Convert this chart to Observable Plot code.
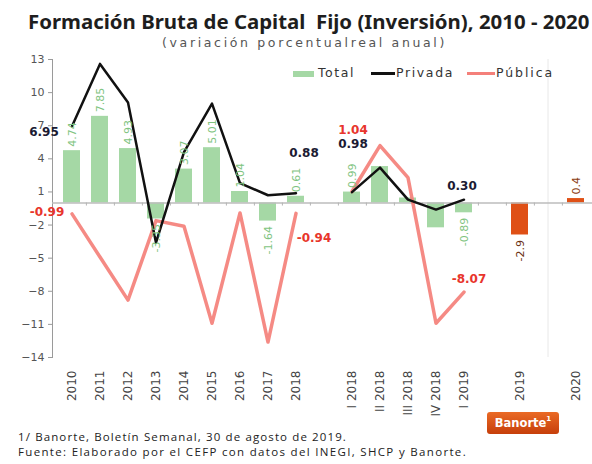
<!DOCTYPE html>
<html><head><meta charset="utf-8">
<script src="https://cdn.jsdelivr.net/npm/d3@7"></script>
<script src="https://cdn.jsdelivr.net/npm/@observablehq/plot@0.6"></script>
<style>
body{margin:0;background:#fff;}
#wrap{position:relative;width:592px;height:464px;overflow:hidden;background:#fff;}
#wrap svg{position:absolute;left:0;top:0;}
.abs{position:absolute;white-space:pre;}
#title{left:28px;top:11px;font-family:"Noto Sans",sans-serif;font-weight:bold;font-size:18px;line-height:20px;color:#1e1e1e;}
#subtitle{left:162px;top:36px;font-family:"DejaVu Sans",sans-serif;font-size:12.5px;line-height:14px;color:#555;}
.leg{font-family:"DejaVu Sans",sans-serif;font-size:12.5px;line-height:14px;color:#333;top:66px;}
.note{font-family:"Open Sans",sans-serif;font-size:11.5px;line-height:13px;color:#222;left:18px;}
#banorte{left:487px;top:412px;width:72px;height:22px;border-radius:3px;background:linear-gradient(#ea6a25,#c63f0b);color:#fff;font-family:"DejaVu Sans",sans-serif;font-weight:bold;font-size:11.5px;line-height:22px;text-align:center;}
#banorte sup{font-size:7px;vertical-align:6px;line-height:0;}
</style></head>
<body><div id="wrap">
<div id="title" class="abs">Formación Bruta de Capital  Fijo (Inversión), 2010 - 2020</div>
<div id="subtitle" class="abs">(variación porcentualreal anual)</div>
<div class="abs" style="left:293px;top:71px;width:21px;height:6px;background:#a5d8a5;"></div>
<div id="legTotal" class="abs leg" style="left:318px;">Total</div>
<div class="abs" style="left:371px;top:72px;width:24px;height:2.5px;background:#111;"></div>
<div id="legPriv" class="abs leg" style="left:396px;">Privada</div>
<div class="abs" style="left:467px;top:71.5px;width:28px;height:3.5px;background:#f4807a;"></div>
<div id="legPub" class="abs leg" style="left:496px;">Pública</div>
<div id="note1" class="abs note" style="top:430px;">1/ Banorte, Boletín Semanal, 30 de agosto de 2019.</div>
<div id="note2" class="abs note" style="top:445px;">Fuente: Elaborado por el CEFP con datos del INEGI, SHCP y Banorte.</div>
<div id="banorte" class="abs">Banorte<sup>1</sup></div>
</div>
<script>
// ---- data ----
const annualYears = ["2010","2011","2012","2013","2014","2015","2016","2017","2018"];
const quarters = ["I 2018","II 2018","III 2018","IV 2018","I 2019"];
const banorteYears = ["2019","2020"];
const categories = [...annualYears, "_a", ...quarters, "_b", "2019", "_c", "2020"];
const tickLabels = [...annualYears, ...quarters, ...banorteYears];
const yTicks = [13, 10, 7, 4, 1, -2, -5, -8, -11, -14];

const totalAnual = [4.74, 7.85, 4.93, -1.45, 3.07, 5.01, 1.04, -1.64, 0.61];
const totalAnualLabels = ["4.74", "7.85", "4.93", "-3.35", "3.07", "5.01", "1.04", "-1.64", "0.61"];
const totalTrim = [0.99, 3.3, 0.45, -2.25, -0.89];
const totalTrimLabels = ["0.99", "", "", "", "-0.89"];
const banorteTotal = [-2.9, 0.4];
const banorteLabels = ["-2.9", "0.4"];

const privadaAnual = [6.95, 12.6, 9.1, -3.6, 4.6, 9.0, 1.8, 0.7, 0.88];
const privadaTrim = [0.98, 3.2, 0.3, -0.6, 0.30];
const publicaAnual = [-0.99, -4.9, -8.8, -1.6, -2.1, -10.9, -0.9, -12.6, -0.94];
const publicaTrim = [1.04, 5.2, 2.3, -10.9, -8.07];

// ---- tables ----
const totalRows = [
  ...annualYears.map((c, i) => ({cat: c, value: totalAnual[i], label: totalAnualLabels[i]})),
  ...quarters.map((c, i) => ({cat: c, value: totalTrim[i], label: totalTrimLabels[i]}))
];
const banorteRows = banorteYears.map((c, i) => ({cat: c, value: banorteTotal[i], label: banorteLabels[i]}));
const lineRows = (a, q) => [
  ...annualYears.map((c, i) => ({cat: c, value: a[i], seg: "a"})),
  ...quarters.map((c, i) => ({cat: c, value: q[i], seg: "q"}))
];
const privRows = lineRows(privadaAnual, privadaTrim);
const pubRows = lineRows(publicaAnual, publicaTrim);
const pt = (cat, value) => [{cat, value}];
const fmt = d => d.value.toFixed(2);

const green = "#a5d8a5", greenText = "#7fc47f", navy = "#1b1b33", red = "#e8352c";

const chart = Plot.plot({
  width: 592, height: 464,
  marginTop: 59, marginBottom: 107, marginLeft: 52, marginRight: 0,
  style: {fontFamily: "DejaVu Sans, sans-serif", background: "transparent", color: "#555", overflow: "visible"},
  x: {type: "band", domain: categories, range: [49.6, 596.8], paddingInner: 0.4, paddingOuter: 0.2, axis: null},
  y: {domain: [-14, 13], axis: null},
  marks: [
    Plot.ruleX(["_c"], {stroke: "#e8e8e8", y1: 13, y2: -14}),
    Plot.frame({anchor: "left", stroke: "#9a9a9a"}),
    Plot.axisY({ticks: yTicks, tickSize: 4, tickPadding: 4, fontSize: 11, stroke: "#9a9a9a", fill: "#555", label: null}),
    Plot.axisX({ticks: tickLabels, tickSize: 0, tickPadding: 13, tickRotate: -90, fontSize: 12, fill: "#444", label: null}),
    Plot.barY(totalRows, {x: "cat", y: "value", fill: green}),
    Plot.barY(banorteRows, {x: "cat", y: "value", fill: "#df5016"}),
    Plot.ruleY([0], {stroke: "#bdbdbd", strokeWidth: 1.5}),
    Plot.ruleX(categories.slice(0, -1), {x: d => d, dx: 14.4, y1: 0, y2: -0.28, stroke: "#b5b5b5"}),
    Plot.line(pubRows, {x: "cat", y: "value", z: "seg", stroke: "#f4807a", strokeWidth: 3.5, strokeOpacity: 0.92}),
    Plot.line(privRows, {x: "cat", y: "value", z: "seg", stroke: "#111", strokeWidth: 2.5}),
    // total labels
    Plot.text(totalRows.filter(d => d.label && d.value >= 0), {x: "cat", y: "value", text: "label", rotate: -90, textAnchor: "start", dy: -4, fontSize: 11, fill: greenText}),
    Plot.text(totalRows.filter(d => d.label && d.value < 0), {x: "cat", y: "value", text: "label", rotate: -90, textAnchor: "end", dy: 5, fontSize: 11, fill: greenText}),
    Plot.text(banorteRows.filter(d => d.value >= 0), {x: "cat", y: "value", text: "label", rotate: -90, textAnchor: "start", dy: -4, fontSize: 11, fill: "#8b3d12"}),
    Plot.text(banorteRows.filter(d => d.value < 0), {x: "cat", y: "value", text: "label", rotate: -90, textAnchor: "end", dy: 5, fontSize: 11, fill: "#6b3010"}),
    // privada labels
    Plot.text(pt(annualYears[0], privadaAnual[0]), {x: "cat", y: "value", text: fmt, dx: -28, dy: 6, fontSize: 12, fontWeight: "bold", fill: navy}),
    Plot.text(pt(annualYears[8], privadaAnual[8]), {x: "cat", y: "value", text: fmt, dx: 8, dy: -40, fontSize: 12, fontWeight: "bold", fill: navy}),
    Plot.text(pt(quarters[0], privadaTrim[0]), {x: "cat", y: "value", text: fmt, dx: 1, dy: -48, fontSize: 12, fontWeight: "bold", fill: navy}),
    Plot.text(pt(quarters[4], privadaTrim[4]), {x: "cat", y: "value", text: fmt, dx: -2, dy: -14, fontSize: 12, fontWeight: "bold", fill: navy}),
    // publica labels
    Plot.text(pt(annualYears[0], publicaAnual[0]), {x: "cat", y: "value", text: fmt, dx: -25, dy: -2, fontSize: 12, fontWeight: "bold", fill: red}),
    Plot.text(pt(annualYears[8], publicaAnual[8]), {x: "cat", y: "value", text: fmt, dx: 18, dy: 25, fontSize: 12, fontWeight: "bold", fill: red}),
    Plot.text(pt(quarters[0], publicaTrim[0]), {x: "cat", y: "value", text: fmt, dx: 1, dy: -61, fontSize: 12, fontWeight: "bold", fill: red}),
    Plot.text(pt(quarters[4], publicaTrim[4]), {x: "cat", y: "value", text: fmt, dx: 5, dy: -13, fontSize: 12, fontWeight: "bold", fill: red})
  ]
});
const wrap = document.getElementById("wrap");
wrap.insertBefore(chart, wrap.firstChild);

// fit text widths to the reference
function fitSpacing(id, w) {
  const el = document.getElementById(id);
  const nat = el.getBoundingClientRect().width;
  el.style.letterSpacing = ((w - nat) / el.textContent.length) + "px";
}
function fitSize(id, w) {
  const el = document.getElementById(id);
  const fs = parseFloat(getComputedStyle(el).fontSize);
  const nat = el.getBoundingClientRect().width;
  el.style.fontSize = (fs * w / nat) + "px";
}
fitSize("title", 562);
fitSpacing("subtitle", 285);
fitSpacing("legTotal", 37);
fitSpacing("legPriv", 58);
fitSpacing("legPub", 58);
fitSpacing("note1", 329);
fitSpacing("note2", 449);
</script>
</body></html>
